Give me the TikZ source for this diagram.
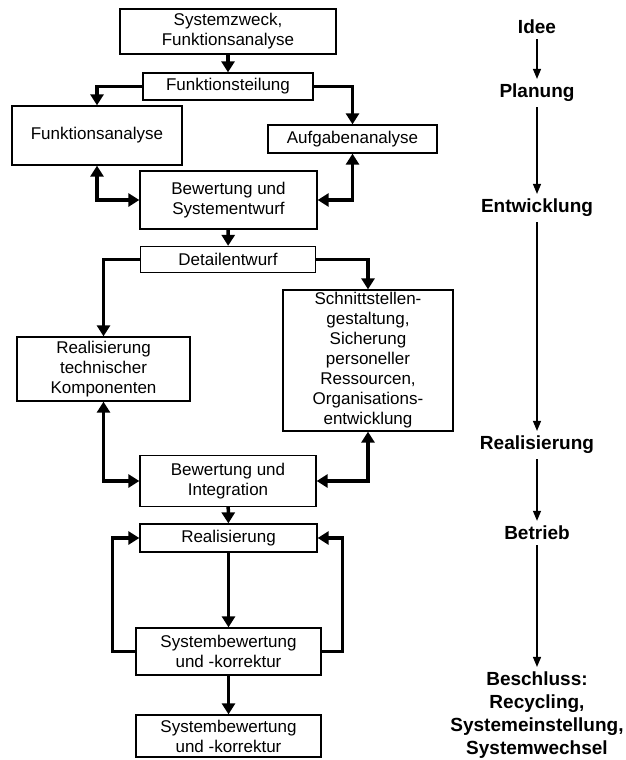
\documentclass[tikz,border=0pt]{standalone}
\usepackage{fontspec}
\setmainfont{Liberation Sans}
\usepackage{tikz}
\usetikzlibrary{arrows.meta}

\begin{document}
\begin{tikzpicture}[x=1pt,y=-1pt]

	\tikzstyle{stage} = [draw,line width=1.3pt,align=center,inner sep=0pt,font=\fontsize{17}{20}\selectfont]
	\tikzstyle{flow} = [line width=3.5pt,-{Triangle[width=13pt,length=11pt]}]
	\tikzstyle{both} = [line width=3.5pt,{Triangle[width=13pt,length=11pt]}-{Triangle[width=13pt,length=11pt]}]
	\tikzstyle{phase} = [align=center,inner sep=3pt,font=\bfseries\fontsize{19}{23}\selectfont]
	\tikzstyle{phasearrow} = [line width=1.3pt,-{Triangle[width=8pt,length=10pt]},shorten <=2pt,shorten >=2pt]

	\useasboundingbox (0,0) rectangle (626,760);

	% Ablauf links
	\node[stage,minimum width=216pt,minimum height=45pt] (zweck) at (228,31.5) {Systemzweck,\\Funktionsanalyse};
	\node[stage,minimum width=170pt,minimum height=27pt] (teil) at (228,86.5) {Funktionsteilung};
	\node[stage,minimum width=170pt,minimum height=59pt] (fana) at (97,135.5) {Funktionsanalyse};
	\node[stage,minimum width=169pt,minimum height=28pt] (aufg) at (352.5,139) {Aufgabenanalyse};
	\node[stage,minimum width=177pt,minimum height=58pt] (entwurf) at (228.5,200) {Bewertung und\\Systementwurf};
	\node[stage,minimum width=175pt,minimum height=26pt] (detail) at (228,259.5) {Detailentwurf};
	\node[stage,minimum width=173pt,minimum height=64pt] (technik) at (103.5,369) {Realisierung\\technischer\\Komponenten};
	\node[stage,minimum width=170pt,minimum height=141pt] (schnitt) at (368,360.5) {Schnittstellen-\\gestaltung,\\Sicherung\\personeller\\Ressourcen,\\Organisations-\\entwicklung};
	\node[stage,minimum width=176pt,minimum height=51pt] (integr) at (228,481) {Bewertung und\\Integration};
	\node[stage,minimum width=177pt,minimum height=28pt] (real) at (228.5,538) {Realisierung};
	\node[stage,minimum width=185pt,minimum height=47pt] (korr1) at (228.5,651.5) {Systembewertung\\und -korrektur};
	\node[stage,minimum width=185pt,minimum height=42pt] (korr2) at (228.5,736) {Systembewertung\\und -korrektur};

	\draw[flow] (zweck) -- (teil);
	\draw[flow] (teil.west) -| (fana.north);
	\draw[flow] (teil.east) -| (aufg.north);
	\draw[both] (fana.south) |- (entwurf.west);
	\draw[both] (aufg.south) |- (entwurf.east);
	\draw[flow] (entwurf) -- (detail);
	\draw[flow] (detail.west) -| (technik.north);
	\draw[flow] (detail.east) -| (schnitt.north);
	\draw[both] (technik.south) |- (integr.west);
	\draw[both] (schnitt.south) |- (integr.east);
	\draw[flow] (integr) -- (real);
	\draw[flow] (real) -- (korr1);
	\draw[flow] (korr1.west) -- ++(-23,0) |- (real.west);
	\draw[flow] (korr1.east) -- ++(21,0) |- (real.east);
	\draw[flow] (korr1) -- (korr2);

	% Phasen rechts
	\node[phase] (idee) at (537,27) {Idee};
	\node[phase] (plan) at (537,93) {Planung};
	\node[phase] (entw) at (537,208) {Entwicklung};
	\node[phase] (realphase) at (537,445) {Realisierung};
	\node[phase] (betrieb) at (537,533) {Betrieb};
	\node[phase] (beschluss) at (537,715.5) {Beschluss:\\Recycling,\\Systemeinstellung,\\Systemwechsel};

	\draw[phasearrow] (idee) -- (plan);
	\draw[phasearrow] (plan) -- (entw);
	\draw[phasearrow] (entw) -- (realphase);
	\draw[phasearrow] (realphase) -- (betrieb);
	\draw[phasearrow] (betrieb) -- (beschluss);
\end{tikzpicture}
\end{document}
